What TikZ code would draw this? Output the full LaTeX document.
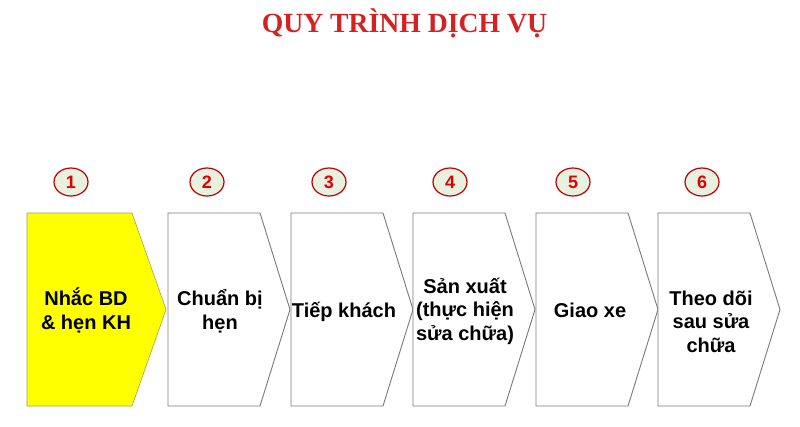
\documentclass[tikz,border=0pt]{standalone}
\usepackage{fontspec}
\setmainfont{Liberation Sans}
\newfontfamily\titlefont{Liberation Serif}
\usetikzlibrary{shapes.geometric}
\definecolor{titlered}{HTML}{D42222}
\definecolor{numred}{HTML}{E00000}
\definecolor{ringred}{HTML}{C00000}
\definecolor{ringfill}{HTML}{E8F0E0}
\definecolor{edgegray}{HTML}{7A7A7A}
\definecolor{boxyellow}{HTML}{FFFF00}
\tikzset{
  chev/.style={draw=edgegray, line width=0.9pt, fill=white},
  chevfirst/.style={draw=edgegray!70!boxyellow, line width=0.6pt, fill=boxyellow},
  ring/.style={ellipse, draw=ringred, line width=1.2pt, fill=ringfill,
    minimum width=34pt, minimum height=28pt, inner sep=0pt,
    font=\bfseries\fontsize{18}{18}\selectfont, text=numred},
  lbl/.style={align=center, inner sep=0pt, font=\bfseries\fontsize{20}{23.3}\selectfont, text=black},
}
\begin{document}
\begin{tikzpicture}[x=1pt,y=-1pt]
\useasboundingbox (0,0) rectangle (800,426);
\fill[white] (0,0) rectangle (800,426);
\node[anchor=base, inner sep=0pt, text=titlered, font=\titlefont\bfseries\fontsize{27.7}{30}\selectfont] (title) at (404.5,32) {QUY TRÌNH DỊCH VỤ};
% chevrons
\draw[chevfirst] (27,213) -- (132,213) -- (166,309.5) -- (132,406) -- (27,406) -- cycle;
\foreach \L in {168,291,413,536,658}{
  \draw[chev] (\L,213) -- ({\L+92},213) -- ({\L+122},309.5) -- ({\L+92},406) -- (\L,406) -- cycle;
}
% numbers
\node[ring] (n1) at (71,182) {1};
\node[ring] (n2) at (207,182) {2};
\node[ring] (n3) at (329,182) {3};
\node[ring] (n4) at (450,182) {4};
\node[ring] (n5) at (573,182) {5};
\node[ring] (n6) at (702,182) {6};
% labels (base = baseline of the last line)
\node[lbl, anchor=base] (t1) at (86,329) {Nhắc BD\\\& hẹn KH};
\node[lbl, anchor=base] (t2) at (220,329) {Chuẩn bị\\hẹn};
\node[lbl, anchor=base] (t3) at (344,317) {Tiếp khách};
\node[lbl, anchor=base] (t4) at (465,340) {Sản xuất\\(thực hiện\\sửa chữa)};
\node[lbl, anchor=base] (t5) at (590,317) {Giao xe};
\node[lbl, anchor=base] (t6) at (711,352) {Theo dõi\\sau sửa\\chữa};
\end{tikzpicture}
\end{document}
